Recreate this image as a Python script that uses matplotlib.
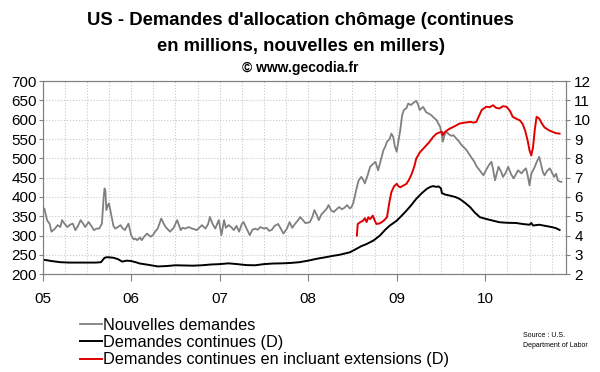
import numpy as np
import matplotlib
matplotlib.use("Agg")
import matplotlib.pyplot as plt

plt.rcParams['font.family'] = ['Liberation Sans', 'DejaVu Sans']

# Nouvelles demandes (milliers), axe gauche
nouv_t = [2005.00, 2005.02, 2005.05, 2005.08, 2005.10, 2005.14, 2005.17, 2005.20, 2005.22, 2005.25,
          2005.28, 2005.31, 2005.34, 2005.37, 2005.40, 2005.43, 2005.46, 2005.48, 2005.52, 2005.55,
          2005.58, 2005.61, 2005.64, 2005.67, 2005.69, 2005.70, 2005.71, 2005.72, 2005.74, 2005.75,
          2005.78, 2005.80, 2005.82, 2005.85, 2005.88, 2005.90, 2005.93, 2005.97, 2006.00, 2006.03,
          2006.05, 2006.07, 2006.10, 2006.12, 2006.15, 2006.18, 2006.22, 2006.25, 2006.27, 2006.30,
          2006.34, 2006.37, 2006.39, 2006.42, 2006.44, 2006.48, 2006.52, 2006.56, 2006.58, 2006.61,
          2006.65, 2006.69, 2006.72, 2006.74, 2006.77, 2006.80, 2006.84, 2006.87, 2006.89, 2006.92,
          2006.95, 2006.99, 2007.02, 2007.05, 2007.07, 2007.10, 2007.13, 2007.16, 2007.19, 2007.22,
          2007.25, 2007.27, 2007.30, 2007.34, 2007.37, 2007.40, 2007.43, 2007.46, 2007.50, 2007.53,
          2007.56, 2007.59, 2007.62, 2007.66, 2007.69, 2007.72, 2007.76, 2007.79, 2007.82, 2007.85,
          2007.88, 2007.91, 2007.94, 2007.97, 2008.02, 2008.05, 2008.07, 2008.10, 2008.12, 2008.15,
          2008.18, 2008.21, 2008.23, 2008.26, 2008.29, 2008.32, 2008.35, 2008.38, 2008.41, 2008.44,
          2008.47, 2008.49, 2008.51, 2008.53, 2008.55, 2008.57, 2008.60, 2008.62, 2008.64, 2008.67,
          2008.70, 2008.73, 2008.76, 2008.79, 2008.82, 2008.85, 2008.87, 2008.89, 2008.92, 2008.94,
          2008.96, 2008.98, 2009.00, 2009.02, 2009.04, 2009.06, 2009.08, 2009.11, 2009.13, 2009.16,
          2009.19, 2009.22, 2009.24, 2009.26, 2009.28, 2009.30, 2009.33, 2009.36, 2009.39, 2009.42,
          2009.45, 2009.47, 2009.49, 2009.51, 2009.52, 2009.54, 2009.56, 2009.59, 2009.62, 2009.64,
          2009.67, 2009.70, 2009.73, 2009.76, 2009.79, 2009.82, 2009.85, 2009.88, 2009.90, 2009.92,
          2009.95, 2009.98, 2010.01, 2010.04, 2010.07, 2010.09, 2010.11, 2010.13, 2010.15, 2010.18,
          2010.20, 2010.23, 2010.26, 2010.29, 2010.32, 2010.35, 2010.37, 2010.39, 2010.41, 2010.44,
          2010.46, 2010.48, 2010.50, 2010.52, 2010.56, 2010.58, 2010.61, 2010.63, 2010.65, 2010.67,
          2010.70, 2010.73, 2010.76, 2010.78, 2010.80, 2010.82, 2010.84, 2010.86]
nouv_v = [365, 370, 340, 330, 310, 318, 327, 322, 340, 330,
          322, 328, 331, 314, 325, 340, 330, 322, 335, 325,
          314, 318, 318, 331, 400, 422, 415, 366, 380, 383,
          348, 325, 318, 322, 327, 320, 314, 331, 301, 290,
          292, 288, 295, 288, 298, 305, 297, 302, 310, 318,
          344, 330, 322, 315, 310, 320, 340, 314, 320, 318,
          322, 318, 316, 314, 320, 327, 318, 330, 348, 330,
          318, 340, 301, 340, 320, 327, 322, 314, 325, 310,
          330, 335, 320, 301, 315, 318, 315, 322, 318, 320,
          312, 315, 325, 330, 318, 305, 318, 335, 320, 330,
          338, 348, 340, 332, 335, 350, 366, 352, 340, 355,
          362, 370, 379, 365, 361, 368, 374, 368, 372, 379,
          370, 374, 385, 405, 425, 443, 452, 445, 435, 455,
          478, 485, 491, 469, 495, 521, 530, 543, 550, 564,
          556, 530, 517, 545, 573, 610, 625, 630, 642, 638,
          644, 649, 640, 625, 630, 633, 620, 616, 612, 605,
          599, 590, 582, 560, 543, 560, 569, 562, 558, 560,
          552, 545, 535, 528, 521, 510, 500, 490, 480, 474,
          465, 456, 470, 482, 491, 470, 443, 460, 478, 465,
          452, 462, 478, 460, 448, 460, 469, 465, 461, 470,
          474, 455, 430, 460, 478, 490, 504, 485, 465, 456,
          468, 474, 460, 452, 460, 443, 440, 439]

# Demandes continues (millions), axe droit
cont_t = [2005.00, 2005.05, 2005.10, 2005.20, 2005.30, 2005.40, 2005.50, 2005.60, 2005.66, 2005.70,
          2005.73, 2005.80, 2005.85, 2005.90, 2005.95, 2006.00, 2006.05, 2006.10, 2006.20, 2006.30,
          2006.40, 2006.50, 2006.60, 2006.70, 2006.80, 2006.90, 2007.00, 2007.10, 2007.20, 2007.30,
          2007.40, 2007.50, 2007.60, 2007.70, 2007.80, 2007.90, 2008.00, 2008.10, 2008.20, 2008.28,
          2008.35, 2008.47, 2008.54, 2008.60, 2008.66, 2008.74, 2008.81, 2008.87, 2008.92, 2009.00,
          2009.05, 2009.11, 2009.16, 2009.22, 2009.28, 2009.34, 2009.38, 2009.41, 2009.45, 2009.47,
          2009.50, 2009.51, 2009.55, 2009.60, 2009.66, 2009.71, 2009.77, 2009.83, 2009.88, 2009.94,
          2010.01, 2010.08, 2010.16, 2010.25, 2010.35, 2010.42, 2010.50, 2010.52, 2010.54, 2010.61,
          2010.68, 2010.76, 2010.80, 2010.84]
cont_v = [2.75, 2.72, 2.68, 2.62, 2.60, 2.60, 2.60, 2.60, 2.62, 2.85,
          2.88, 2.85, 2.78, 2.65, 2.70, 2.68, 2.62, 2.55, 2.48, 2.40,
          2.42, 2.46, 2.45, 2.44, 2.46, 2.50, 2.52, 2.56, 2.52, 2.47,
          2.46, 2.52, 2.55, 2.56, 2.58, 2.62, 2.70, 2.80, 2.88, 2.95,
          3.00, 3.13, 3.30, 3.45, 3.56, 3.75, 4.00, 4.30, 4.51, 4.77,
          5.00, 5.29, 5.55, 5.90, 6.18, 6.42, 6.52, 6.56, 6.52, 6.55,
          6.45, 6.20, 6.12, 6.07, 6.00, 5.90, 5.70, 5.47, 5.20, 4.95,
          4.86, 4.78, 4.69, 4.66, 4.65, 4.60, 4.56, 4.65, 4.52, 4.56,
          4.50, 4.43, 4.38, 4.29]

# Demandes continues avec extensions (millions), axe droit
ext_t = [2008.55, 2008.56, 2008.59, 2008.62, 2008.64, 2008.66, 2008.68, 2008.70, 2008.73, 2008.75,
         2008.77, 2008.80, 2008.83, 2008.86, 2008.89, 2008.92, 2008.94, 2008.97, 2009.00, 2009.02,
         2009.04, 2009.08, 2009.11, 2009.14, 2009.17, 2009.20, 2009.22, 2009.26, 2009.30, 2009.34,
         2009.37, 2009.41, 2009.45, 2009.49, 2009.51, 2009.52, 2009.54, 2009.57, 2009.60, 2009.65,
         2009.71, 2009.77, 2009.83, 2009.87, 2009.90, 2009.93, 2009.96, 2010.01, 2010.05, 2010.09,
         2010.12, 2010.16, 2010.20, 2010.24, 2010.28, 2010.31, 2010.35, 2010.39, 2010.42, 2010.45,
         2010.48, 2010.50, 2010.52, 2010.54, 2010.56, 2010.58, 2010.61, 2010.64, 2010.67, 2010.69,
         2010.72, 2010.76, 2010.80, 2010.84]
ext_v = [4.00, 4.60, 4.70, 4.77, 4.90, 4.70, 4.95, 4.85, 5.03, 4.80,
         4.60, 4.62, 4.69, 4.80, 4.95, 5.80, 6.25, 6.55, 6.68, 6.55,
         6.50, 6.60, 6.68, 6.90, 7.20, 7.60, 7.98, 8.30, 8.50, 8.70,
         8.85, 9.10, 9.28, 9.35, 9.37, 9.20, 9.35, 9.45, 9.54, 9.65,
         9.80, 9.85, 9.89, 9.85, 9.89, 10.20, 10.50, 10.67, 10.65, 10.75,
         10.62, 10.58, 10.70, 10.67, 10.45, 10.15, 10.05, 9.97, 9.80, 9.45,
         8.90, 8.41, 8.15, 8.58, 9.50, 10.15, 10.06, 9.80, 9.60, 9.54,
         9.45, 9.37, 9.30, 9.28]

annees = [2005, 2006, 2007, 2008, 2009, 2010]
annees_lab = ['05', '06', '07', '08', '09', '10']

fig = plt.figure(figsize=(6, 3.72), dpi=100)
ax = fig.add_axes([0.071, 0.263, 0.872, 0.519])
ax2 = ax.twinx()

l1, = ax.plot(nouv_t, nouv_v, color='#808080', lw=1.3, label='Nouvelles demandes')
l2, = ax2.plot(cont_t, cont_v, color='black', lw=1.4, label='Demandes continues (D)')
l3, = ax2.plot(ext_t, ext_v, color='#e00000', lw=1.4,
               label='Demandes continues en incluant extensions (D)')

ax.set_xlim(2005, 2010.91)
ax.set_ylim(200, 700)
ax2.set_ylim(2, 12)
ax.set_yticks(np.arange(200, 701, 50))
ax2.set_yticks(np.arange(2, 13, 1))
ax.set_xticks(annees)
ax.set_xticklabels(annees_lab)
ax.set_xticks(np.arange(2005, 2011, 0.25), minor=True)

ax.grid(True, which='both', color='#c8c8c8', linestyle=':', linewidth=0.8)
ax.set_axisbelow(True)
ax.tick_params(axis='x', which='minor', length=0)
ax.tick_params(axis='x', which='major', length=5, pad=8, color='#808080', labelsize=11)
ax.tick_params(axis='y', length=3, pad=1, color='#808080', labelsize=11)
ax2.tick_params(axis='y', length=3, pad=3, color='#808080', labelsize=11)
for a in (ax, ax2):
    for s in a.spines.values():
        s.set_color('#808080')

fig.text(0.5, 0.944, "US - Demandes d'allocation chômage (continues", ha='center', va='center',
         fontsize=13.3, fontweight='bold')
fig.text(0.502, 0.875, "en millions, nouvelles en millers)", ha='center', va='center',
         fontsize=13.3, fontweight='bold')
fig.text(0.5, 0.817, "© www.gecodia.fr", ha='center', va='center',
         fontsize=10, fontweight='bold')

fig.legend(handles=[l1, l2, l3], loc='upper left', bbox_to_anchor=(0.133, 0.145),
           frameon=False, fontsize=11.7, handlelength=1.35, handletextpad=0.1,
           labelspacing=0.13, borderpad=0, borderaxespad=0)

fig.text(0.872, 0.084, "Source : U.S.\nDepartment of Labor", ha='left', va='center',
         fontsize=5, linespacing=1.6)

fig.savefig('out.png', dpi=100)
